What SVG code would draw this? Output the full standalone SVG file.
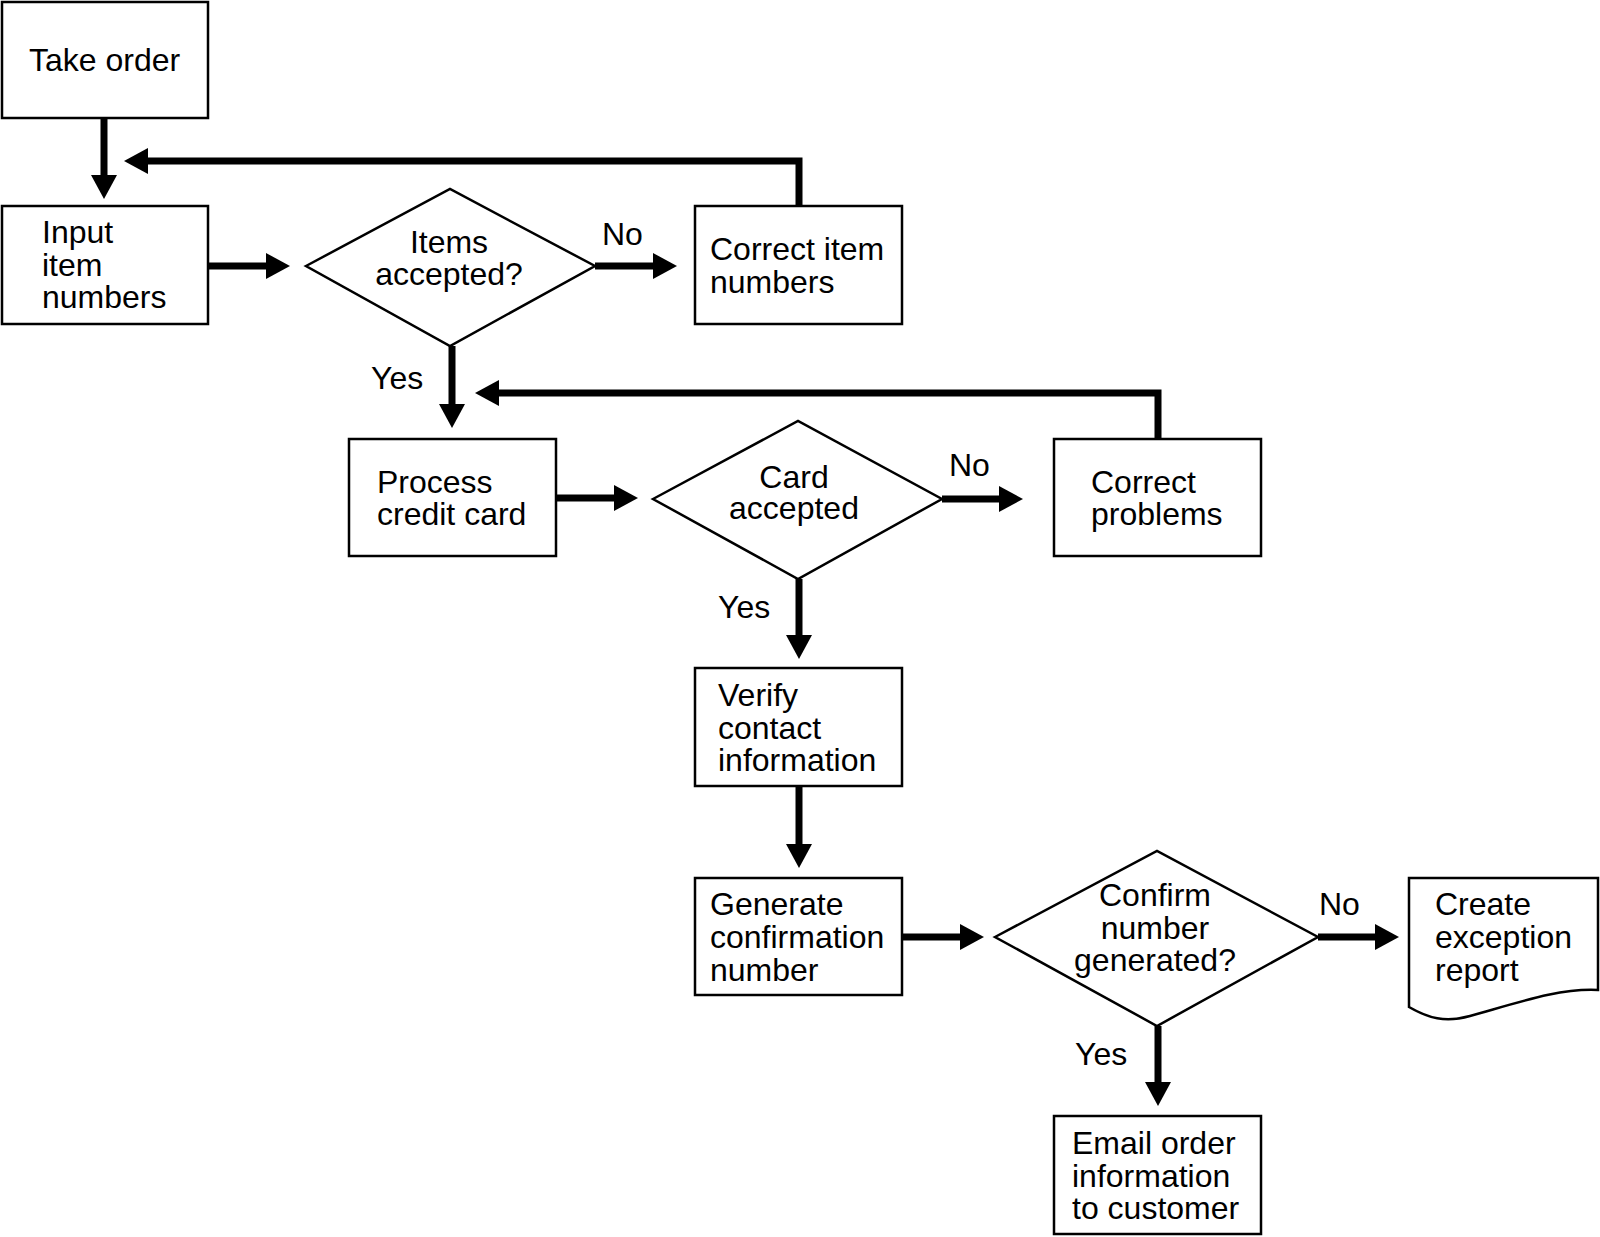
<svg xmlns="http://www.w3.org/2000/svg" width="1600" height="1237" viewBox="0 0 1600 1237">
<defs>
<marker id="ah" viewBox="0 0 24 26" refX="0" refY="13" markerWidth="24" markerHeight="26" markerUnits="userSpaceOnUse" orient="auto">
<path d="M0,0 L24,13 L0,26 Z" fill="#000"/>
</marker>
</defs>
<style>
.box{fill:#fff;stroke:#000;stroke-width:2.5}
.t{font-family:"Liberation Sans",Arial,sans-serif;font-size:32px;fill:#000}
.c{text-anchor:middle}
.conn{fill:none;stroke:#000;stroke-width:7;stroke-linejoin:miter}
.arr{marker-end:url(#ah)}
</style>
<rect width="1600" height="1237" fill="#fff"/>
<g id="connectors">
<path class="conn arr" d="M104,118 V175"/>
<path class="conn arr" d="M799,206 V161 H148"/>
<path class="conn arr" d="M208,266 H266"/>
<path class="conn arr" d="M595,266 H653"/>
<path class="conn arr" d="M452,346 V404"/>
<path class="conn arr" d="M1158,439 V393 H499"/>
<path class="conn arr" d="M556,498 H614"/>
<path class="conn arr" d="M942,499 H999"/>
<path class="conn arr" d="M799,579 V635"/>
<path class="conn arr" d="M799,786 V844"/>
<path class="conn arr" d="M902,937 H960"/>
<path class="conn arr" d="M1318,937 H1375"/>
<path class="conn arr" d="M1158,1026 V1082"/>
<text class="t" x="602" y="245">No</text>
<text class="t" x="371" y="389">Yes</text>
<text class="t" x="949" y="476">No</text>
<text class="t" x="718" y="618">Yes</text>
<text class="t" x="1319" y="915">No</text>
<text class="t" x="1075" y="1065">Yes</text>
</g>
<g id="take-order">
<rect class="box" x="2" y="2" width="206" height="116"/>
<text class="t" x="29" y="71">Take order</text>
</g>
<g id="input-item-numbers">
<rect class="box" x="2" y="206" width="206" height="118"/>
<text class="t"><tspan x="42" y="243">Input</tspan><tspan x="42" y="276">item</tspan><tspan x="42" y="308">numbers</tspan></text>
</g>
<g id="items-accepted">
<polygon class="box" points="306,266 450,189 595,266 450,346"/>
<text class="t c"><tspan x="449" y="253">Items</tspan><tspan x="449" y="285">accepted?</tspan></text>
</g>
<g id="correct-item-numbers">
<rect class="box" x="695" y="206" width="207" height="118"/>
<text class="t"><tspan x="710" y="260">Correct item</tspan><tspan x="710" y="293">numbers</tspan></text>
</g>
<g id="process-credit-card">
<rect class="box" x="349" y="439" width="207" height="117"/>
<text class="t"><tspan x="377" y="493">Process</tspan><tspan x="377" y="525">credit card</tspan></text>
</g>
<g id="card-accepted">
<polygon class="box" points="653,499 798,421 942,499 798,579"/>
<text class="t c"><tspan x="794" y="488">Card</tspan><tspan x="794" y="519">accepted</tspan></text>
</g>
<g id="correct-problems">
<rect class="box" x="1054" y="439" width="207" height="117"/>
<text class="t"><tspan x="1091" y="493">Correct</tspan><tspan x="1091" y="525">problems</tspan></text>
</g>
<g id="verify-contact">
<rect class="box" x="695" y="668" width="207" height="118"/>
<text class="t"><tspan x="718" y="706">Verify</tspan><tspan x="718" y="739">contact</tspan><tspan x="718" y="771">information</tspan></text>
</g>
<g id="generate-confirmation">
<rect class="box" x="695" y="878" width="207" height="117"/>
<text class="t"><tspan x="710" y="915">Generate</tspan><tspan x="710" y="948">confirmation</tspan><tspan x="710" y="981">number</tspan></text>
</g>
<g id="confirm-number">
<polygon class="box" points="995,937 1157,851 1318,937 1157,1026"/>
<text class="t c"><tspan x="1155" y="906">Confirm</tspan><tspan x="1155" y="939">number</tspan><tspan x="1155" y="971">generated?</tspan></text>
</g>
<g id="create-exception-report">
<path class="box" d="M1409,878 H1598 V990 C1560,988 1520,1002 1470,1016 C1445,1023 1428,1018 1409,1007 Z"/>
<text class="t"><tspan x="1435" y="915">Create</tspan><tspan x="1435" y="948">exception</tspan><tspan x="1435" y="981">report</tspan></text>
</g>
<g id="email-order">
<rect class="box" x="1054" y="1116" width="207" height="118"/>
<text class="t"><tspan x="1072" y="1154">Email order</tspan><tspan x="1072" y="1187">information</tspan><tspan x="1072" y="1219">to customer</tspan></text>
</g>
</svg>
